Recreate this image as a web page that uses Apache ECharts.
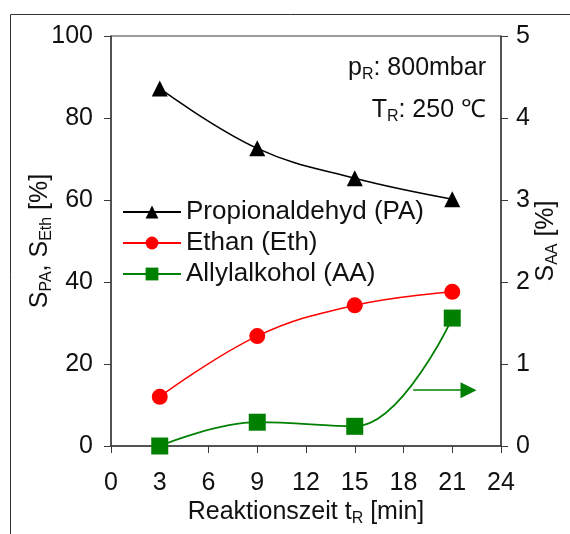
<!DOCTYPE html>
<html>
<head>
<meta charset="utf-8">
<script src="https://cdn.jsdelivr.net/npm/echarts@6/dist/echarts.min.js"></script>
<style>
  html, body { margin: 0; padding: 0; background: #fff; }
  #chart { width: 570px; height: 534px; }
</style>
</head>
<body>
<div id="chart"></div>
<script>
// Reaktionszeit in min
const times = [3, 9, 15, 21];
// Selektivitaeten in %
const propionaldehyd = [87.2, 72.6, 65.3, 60.2];
const ethan = [12.0, 26.8, 34.3, 37.6];
const allylalkohol = [0.0, 0.29, 0.24, 1.56];   // rechte Achse
const xTicks = [0, 24, 3];
const leftTicks = [0, 100, 20];
const rightTicks = [0, 5, 1];
// Pfeil zeigt auf rechte Achse
const arrowFrom = [18.6, 0.68];
const arrowTo = [22.0, 0.68];

const font = 'Liberation Sans, Arial, sans-serif';
const axisColor = '#3a3a3a';

function pairs(ys) {
  return times.map((t, i) => [t, ys[i]]);
}

const rich = {
  n: { fontSize: 25, fontFamily: font, fontWeight: 'normal', color: '#111', lineHeight: 30 },
  s: { fontSize: 16, fontFamily: font, fontWeight: 'normal', color: '#111', lineHeight: 16, verticalAlign: 'bottom', padding: [7, 0, 0, 0] }
};

let myChart = echarts.init(document.getElementById('chart'));
let option = {
  animation: false,
  backgroundColor: '#fff',
  graphic: [
    {
      type: 'rect',
      shape: { x: 10.5, y: 14.5, width: 600, height: 600 },
      style: { fill: 'none', stroke: '#333', lineWidth: 1 },
      silent: true
    }
  ],
  title: [
    {
      text: '{n|p}{s|R}{n|: 800mbar}',
      right: 79, top: 48,
      textStyle: { rich: rich }
    },
    {
      text: '{n|T}{s|R}{n|: 250 ℃}',
      right: 79, top: 90,
      textStyle: { rich: rich }
    }
  ],
  legend: {
    orient: 'vertical',
    left: 122,
    top: 199,
    padding: 0,
    itemWidth: 58,
    itemHeight: 16,
    itemGap: 5,
    textStyle: { fontSize: 26, fontFamily: font, color: '#111', padding: [0, 0, 0, 0] },
    data: ['Propionaldehyd (PA)', 'Ethan (Eth)', 'Allylalkohol (AA)']
  },
  grid: {
    left: 111, right: 69, top: 36, bottom: 88,
    outerBoundsMode: 'none',
    containLabel: false,
    show: true, borderColor: axisColor, borderWidth: 1
  },
  xAxis: {
    type: 'value',
    min: xTicks[0], max: xTicks[1], interval: xTicks[2],
    name: '{n|Reaktionszeit t}{s|R}{n| [min]}',
    nameLocation: 'middle',
    nameGap: 51,
    nameMoveOverlap: false,
    nameTextStyle: { rich: rich },
    axisLine: { onZero: false, lineStyle: { color: axisColor, width: 1.5 } },
    axisTick: { show: true, inside: false, length: 7, lineStyle: { color: axisColor } },
    axisLabel: { fontSize: 25, fontFamily: font, color: '#111', margin: 25 },
    splitLine: { show: false }
  },
  yAxis: [
    {
      type: 'value',
      min: leftTicks[0], max: leftTicks[1], interval: leftTicks[2],
      position: 'left',
      name: '{n|S}{s|PA}{n|, S}{s|Eth}{n| [%]}',
      nameLocation: 'middle',
      nameGap: 56,
      nameRotate: 90,
      nameMoveOverlap: false,
      nameTextStyle: { rich: rich },
      axisLine: { show: true, lineStyle: { color: axisColor, width: 1.5 } },
      axisTick: { show: true, inside: false, length: 7, lineStyle: { color: axisColor } },
      axisLabel: { fontSize: 25, fontFamily: font, color: '#111', margin: 18 },
      splitLine: { show: false }
    },
    {
      type: 'value',
      min: rightTicks[0], max: rightTicks[1], interval: rightTicks[2],
      position: 'right',
      name: '{n|S}{s|AA}{n| [%]}',
      nameLocation: 'middle',
      nameGap: 30,
      nameRotate: 90,
      nameMoveOverlap: false,
      nameTextStyle: { rich: rich },
      axisLine: { show: true, lineStyle: { color: axisColor, width: 1.5 } },
      axisTick: { show: true, inside: false, length: 7, lineStyle: { color: axisColor } },
      axisLabel: { fontSize: 25, fontFamily: font, color: '#111', margin: 15 },
      splitLine: { show: false }
    }
  ],
  series: [
    {
      name: 'Propionaldehyd (PA)',
      type: 'line',
      yAxisIndex: 0,
      smooth: 0.4,
      symbol: 'triangle',
      symbolSize: 16,
      itemStyle: { color: '#000' },
      lineStyle: { color: '#000', width: 1.5 },
      data: pairs(propionaldehyd)
    },
    {
      name: 'Ethan (Eth)',
      type: 'line',
      yAxisIndex: 0,
      smooth: 0.4,
      symbol: 'circle',
      symbolSize: 16,
      itemStyle: { color: '#ff0000' },
      lineStyle: { color: '#ff0000', width: 1.5 },
      data: pairs(ethan)
    },
    {
      name: 'Allylalkohol (AA)',
      type: 'line',
      yAxisIndex: 1,
      smooth: 0.4,
      symbol: 'rect',
      symbolSize: 17,
      itemStyle: { color: '#008000' },
      lineStyle: { color: '#008000', width: 1.8 },
      data: pairs(allylalkohol),
      markLine: {
        silent: true,
        symbol: ['none', 'triangle'],
        symbolSize: [16, 16],
        label: { show: false },
        lineStyle: { color: '#008000', width: 1.5, type: 'solid' },
        data: [[{ coord: arrowFrom }, { coord: arrowTo }]]
      }
    }
  ]
};

option && myChart.setOption(option);
</script>
</body>
</html>
